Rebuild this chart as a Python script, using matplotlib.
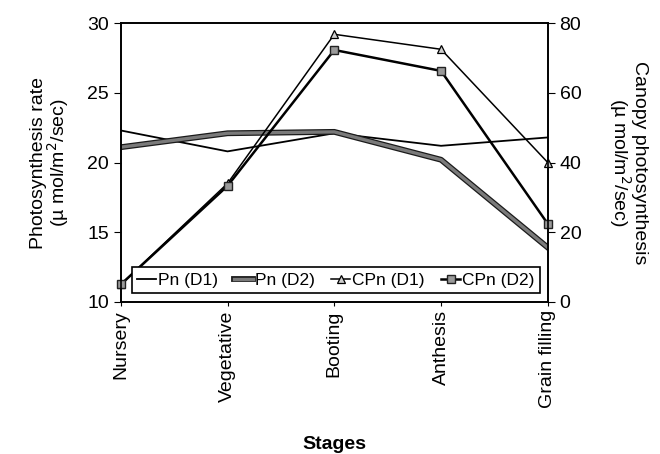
import matplotlib.pyplot as plt
import matplotlib.patheffects as pe

plt.rcParams['font.family'] = ['Liberation Sans', 'DejaVu Sans']

stages = ['Nursery', 'Vegetative', 'Booting', 'Anthesis', 'Grain filling']
pn_d1 = [22.3, 20.8, 22.1, 21.2, 21.8]
pn_d2 = [21.1, 22.1, 22.2, 20.2, 13.9]
cpn_d1 = [5, 34, 76.8, 72.5, 40]
cpn_d2 = [5, 33.3, 72.3, 66.3, 22.4]

x = list(range(len(stages)))

fig = plt.figure(figsize=(6.6, 4.54), dpi=100)
ax = fig.add_axes([0.183, 0.335, 0.647, 0.614])
ax2 = ax.twinx()

l1, = ax.plot(x, pn_d1, color='black', lw=1.3, label='Pn (D1)')
l2, = ax.plot(x, pn_d2, color='#7a7a7a', lw=2.4, label='Pn (D2)',
              path_effects=[pe.Stroke(linewidth=4.2, foreground='#1a1a1a'), pe.Normal()])
l3, = ax2.plot(x, cpn_d1, color='black', lw=1.1, marker='^', ms=6,
               mfc='#cfcfcf', mec='black', mew=0.9, label='CPn (D1)', clip_on=False)
l4, = ax2.plot(x, cpn_d2, color='black', lw=1.8, marker='s', ms=6,
               mfc='#9a9a9a', mec='#222222', mew=1, label='CPn (D2)', clip_on=False)

ax.set_xlim(0, len(stages) - 1)
ax.set_ylim(10, 30)
ax.set_yticks([10, 15, 20, 25, 30])
ax2.set_ylim(0, 80)
ax2.set_yticks([0, 20, 40, 60, 80])

ax.set_xticks(x)
ax.set_xticklabels(stages, rotation=90, fontsize=14)
ax.tick_params(axis='x', length=3, pad=3)
ax.tick_params(axis='y', labelsize=14, length=5, direction='out')
ax2.tick_params(axis='y', labelsize=14, length=5, direction='out')

for a in (ax, ax2):
    for s in a.spines.values():
        s.set_linewidth(1.2)

ax.set_ylabel('Photosynthesis rate\n(µ mol/m$^2$/sec)', fontsize=14, labelpad=12,
              linespacing=0.9)
ax2.set_ylabel('Canopy photosynthesis\n(µ mol/m$^2$/sec)', fontsize=14,
               rotation=270, labelpad=48, linespacing=0.9)
ax.set_xlabel('Stages', fontsize=14, fontweight='bold', labelpad=20)

leg = ax2.legend(handles=[l1, l2, l3, l4], loc='lower center', ncol=4,
                 bbox_to_anchor=(0.503, 0.02), fontsize=12.5, frameon=True,
                 fancybox=False, edgecolor='black', handlelength=1.1,
                 handletextpad=0.1, columnspacing=0.95, borderpad=0.3,
                 borderaxespad=0.2, framealpha=1)
leg.get_frame().set_linewidth(1.2)

fig.savefig('out.png', dpi=100)
